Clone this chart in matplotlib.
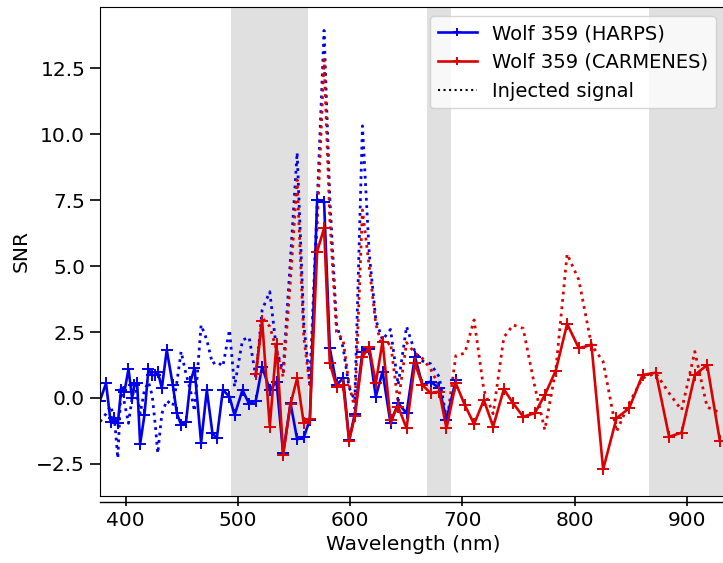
import numpy as np
import matplotlib
matplotlib.use("Agg")
import matplotlib.pyplot as plt
from matplotlib.lines import Line2D

# HARPS: wavelength (nm), SNR and SNR with injected signal
harps_wl = [377.0, 382.4, 386.4, 389.9, 392.9, 395.8, 398.8, 402.4, 405.6, 407.7,
            410.1, 412.8, 416.6, 420.2, 423.5, 426.2, 428.5, 432.1, 436.5, 441.9,
            445.5, 449.3, 453.7, 457.6, 461.2, 467.1, 472.2, 477.2, 481.1, 486.5,
            492.4, 496.9, 504.0, 509.9, 515.9, 521.5, 528.3, 534.3, 540.2, 546.8,
            552.7, 558.6, 564.0, 570.5, 576.7, 581.8, 587.8, 593.7, 599.0, 604.1,
            610.9, 616.9, 622.8, 628.8, 635.9, 642.7, 650.2, 657.6, 664.4, 671.6,
            679.3, 685.8, 694.1]
harps_snr = [-0.1, 0.56, -0.90, -0.77, -0.96, 0.30, 0.24, 1.10, -0.01, 0.49,
             0.56, -1.75, -0.65, 1.10, 0.87, 0.87, 1.00, 0.37, 1.82, 0.49,
             -0.58, -1.02, -0.90, 0.62, 1.13, -1.70, 0.30, -1.34, -1.53, 0.30,
             0.05, -0.65, 0.30, -0.23, -0.10, 1.19, 0.30, 0.62, -2.10, -0.20,
             -1.57, -1.49, -0.83, 7.51, 7.45, 1.89, 0.49, 0.75, -1.60, -0.60,
             1.76, 1.85, 0.05, 1.00, -0.96, -0.20, -0.58, 1.57, 0.49, 0.62,
             0.37, -0.83, 0.68]
harps_inj = [-0.9, -0.6, -0.3, -0.8, -2.29, 0.49, -0.2, -0.96, 0.0, 0.49,
             0.1, -0.6, 0.3, 0.6, 0.1, -1.0, -2.1, -0.6, -0.1, -0.3,
             0.6, 1.76, 0.9, 0.3, -0.5, 2.77, 2.2, 1.3, 1.38, 1.2,
             2.58, 0.43, 2.20, 2.30, 0.81, 3.34, 4.03, 1.82, 1.0, 5.3,
             9.31, 2.8, 0.56, 7.3, 13.94, 7.6, 2.8, 1.9, 0.4, -0.1,
             10.32, 5.5, 2.96, 2.2, 2.6, 0.5, 2.71, 1.75, 1.4, 1.3,
             0.8, -0.8, 0.5]

# CARMENES
carm_wl = [515.9, 521.5, 528.3, 534.3, 540.2, 546.8, 552.7, 558.6, 564.0, 570.5,
           576.7, 581.8, 587.8, 593.7, 599.0, 604.1, 610.9, 616.9, 622.8, 628.8,
           635.9, 642.7, 650.2, 657.6, 664.4, 671.6, 679.3, 685.8, 694.1, 702.1,
           710.4, 719.1, 727.4, 736.9, 745.2, 754.1, 764.5, 773.4, 783.2, 793.3,
           803.7, 815.0, 825.4, 837.3, 848.6, 860.5, 872.4, 884.2, 895.3, 907.1,
           918.1, 929.4]
carm_snr = [0.91, 2.93, -1.09, 2.05, -2.16, -0.23, 0.75, -0.96, -0.81, 5.55,
            6.44, 1.32, 0.43, 0.49, -1.62, -0.70, 1.57, 1.92, 0.56, 2.14,
            -0.83, -0.33, -1.15, 1.32, 0.49, 0.18, 0.24, -1.15, 0.56, -0.27,
            -0.99, -0.08, -1.09, 0.33, -0.20, -0.71, -0.58, 0.11, 1.04, 2.81,
            1.89, 2.01, -2.71, -0.77, -0.39, 0.87, 0.96, -1.47, -1.32, 0.87,
            1.25, -1.62]
carm_inj = [0.9, 3.05, 2.71, 1.82, 0.8, 4.5, 8.27, 2.3, 0.5, 6.5,
            12.83, 6.8, 2.5, 2.2, 0.5, -0.4, 7.13, 5.0, 2.8, 1.9,
            2.1, -0.2, 2.1, 1.7, 1.5, 1.1, 0.45, -1.0, 1.6, 1.7,
            2.96, 0.3, -0.6, 2.3, 2.77, 2.64, 0.43, -1.21, 1.06, 5.46,
            4.48, 2.01, 1.38, -1.28, -0.2, 0.75, 0.94, 0.18, -0.46, 1.76,
            -0.35, -0.55]

# masked (telluric) regions
bands = [(493.6, 562.0), (668.0, 690.0), (866.0, 1000.0)]

plt.rcParams['font.size'] = 14.5

fig = plt.figure(figsize=(7.23, 5.63), dpi=100)
ax = fig.add_axes([0.138, 0.119, 0.866, 0.869])

for lo, hi in bands:
    ax.axvspan(lo, hi, color='0.88', lw=0, zorder=0)

blue = '#0000ee'
red = '#dd0000'
ax.plot(harps_wl, harps_inj, ':', color=blue, lw=2.0)
ax.plot(carm_wl, carm_inj, ':', color=red, lw=2.0)
ax.plot(harps_wl, harps_snr, '-', color=blue, lw=1.9, marker='+', ms=9, mew=1.4,
        label='Wolf 359 (HARPS)')
ax.plot(carm_wl, carm_snr, '-', color=red, lw=1.9, marker='+', ms=9, mew=1.4,
        label='Wolf 359 (CARMENES)')

handles, labels = ax.get_legend_handles_labels()
handles.append(Line2D([], [], color='k', ls=':', lw=1.5))
labels.append('Injected signal')
ax.legend(handles, labels, loc='upper right', fontsize=14, markerscale=0.6)

ax.set_xlim(376.8, 934.8)
ax.set_ylim(-3.72, 14.84)
ax.set_yticks([-2.5, 0.0, 2.5, 5.0, 7.5, 10.0, 12.5])
ax.set_xticks([400, 500, 600, 700, 800, 900])
ax.tick_params(length=7, width=1.2)
ax.set_xlabel('Wavelength (nm)')
ax.set_ylabel('SNR')

# second thin line under the bottom axis, as in the original figure
fig.add_artist(Line2D([0.138, 1.0], [0.108, 0.108], color='k', lw=1.0,
                      transform=fig.transFigure))

fig.savefig('out.png', dpi=100)
